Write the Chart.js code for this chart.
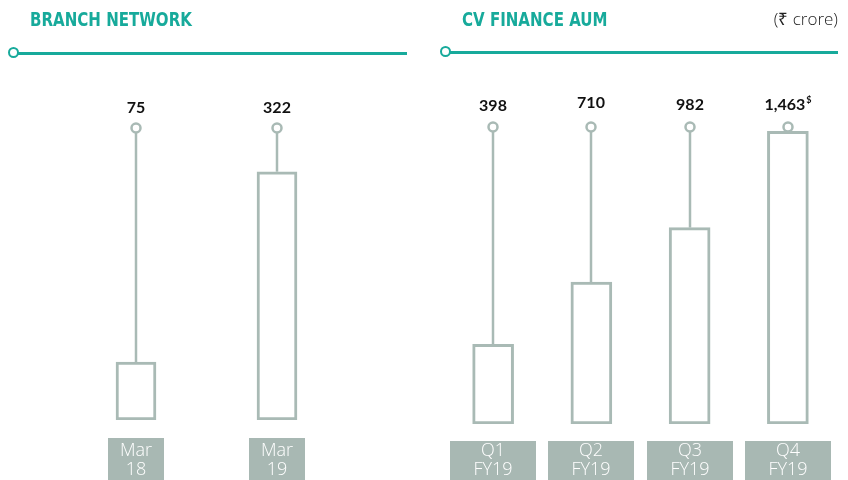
<!DOCTYPE html>
<html>
<head>
<meta charset="utf-8">
<script src="https://cdn.jsdelivr.net/npm/chart.js@4.4.1/dist/chart.umd.min.js"></script>
<style>
    body { margin: 0; background: #fff; }
    #pagina { position: relative; width: 848px; height: 480px; overflow: hidden; }
    canvas { position: absolute; top: 0; }
    .titulo { position: absolute; top: 8px; font-family: "DejaVu Sans Condensed", sans-serif; font-weight: bold; font-size: 19px; color: #17aa9b; transform: scaleX(0.88); transform-origin: left top; }
    .unidad { position: absolute; top: 7px; right: 10px; font-family: "Open Sans", sans-serif; font-weight: 300; font-size: 17px; color: #222; }
    .linea { position: absolute; height: 3px; background: #17aa9b; }
    .circulo { position: absolute; width: 7px; height: 7px; border: 2.5px solid #17aa9b; border-radius: 50%; background: #fff; }
</style>
</head>
<body>
<div id="pagina">
    <canvas id="graficoRamas" width="424" height="480" style="left:0"></canvas>
    <canvas id="graficoAum" width="424" height="480" style="left:424px"></canvas>

    <div class="titulo" style="left:30px">BRANCH NETWORK</div>
    <div class="linea" style="left:14px; top:52px; width:393px"></div>
    <div class="circulo" style="left:8px; top:47px"></div>

    <div class="titulo" style="left:462px">CV FINANCE AUM</div>
    <div class="unidad">(₹ crore)</div>
    <div class="linea" style="left:446px; top:51px; width:392px"></div>
    <div class="circulo" style="left:440px; top:46px"></div>
</div>
<script>
var ramasCategorias = [['Mar', '18'], ['Mar', '19']];
var ramasValores = [75, 322];

var aumCategorias = [['Q1', 'FY19'], ['Q2', 'FY19'], ['Q3', 'FY19'], ['Q4', 'FY19']];
var aumValores = [398, 710, 982, 1463];
var aumNotas = ['', '', '', '$'];

var gris = '#a9bab5';

//PLUGIN PARA PALITO, CIRCULO, VALOR Y CAJA DE CATEGORIA
var adornos = {
    id: 'adornos',
    afterDatasetsDraw: function (chart, args, op) {
        var ctx = chart.ctx;
        var meta = chart.getDatasetMeta(0);
        var valores = chart.data.datasets[0].data;
        var categorias = chart.data.labels;
        ctx.save();
        for (var i = 0; i < meta.data.length; i++) {
            var barra = meta.data[i];
            var x = Math.round(barra.x);

            //PALITO
            ctx.strokeStyle = gris;
            ctx.lineWidth = 2.5;
            ctx.beginPath();
            ctx.moveTo(x, op.circuloY + 5);
            ctx.lineTo(x, barra.y);
            ctx.stroke();

            //CIRCULO
            ctx.fillStyle = '#fff';
            ctx.beginPath();
            ctx.arc(x, op.circuloY, 4.5, 0, Math.PI * 2);
            ctx.fill();
            ctx.stroke();

            //VALOR
            var texto = valores[i].toLocaleString('en-US');
            var nota = op.notas ? op.notas[i] : '';
            ctx.font = 'bold 16px Lato';
            ctx.fillStyle = '#111';
            ctx.textBaseline = 'middle';
            var ancho = ctx.measureText(texto).width;
            ctx.font = 'bold 9px Lato';
            var anchoNota = nota ? ctx.measureText(nota).width + 1 : 0;
            var inicio = x - (ancho + anchoNota) / 2;
            ctx.font = 'bold 16px Lato';
            ctx.textAlign = 'left';
            ctx.fillText(texto, inicio, op.valorY[i]);
            if (nota) {
                ctx.font = 'bold 9px Lato';
                ctx.fillText(nota, inicio + ancho + 1, op.valorY[i] - 5);
            }

            //CAJA
            ctx.fillStyle = '#a8b8b3';
            ctx.fillRect(x - op.cajaAncho / 2, op.cajaY, op.cajaAncho, 480 - op.cajaY);
            ctx.fillStyle = '#fff';
            ctx.font = '300 18px "Open Sans"';
            ctx.textAlign = 'center';
            ctx.fillText(categorias[i][0], x, 450.5);
            ctx.fillText(categorias[i][1], x, 469.5);
        }
        ctx.restore();
    }
};

function crearGrafico(id, categorias, valores, maximo, grosor, padding, extra) {
    return new Chart(document.getElementById(id), {
        type: 'bar',
        data: {
            labels: categorias,
            datasets: [{
                data: valores,
                backgroundColor: '#fff',
                borderColor: gris,
                borderWidth: 3,
                borderSkipped: false,
                barThickness: grosor
            }]
        },
        options: {
            responsive: false,
            animation: false,
            devicePixelRatio: 1,
            layout: { padding: padding },
            scales: {
                x: { display: false },
                y: { display: false, min: 0, max: maximo }
            },
            plugins: {
                legend: { display: false },
                tooltip: { enabled: false },
                adornos: extra
            }
        },
        plugins: [adornos]
    });
}

crearGrafico('graficoRamas', ramasCategorias, ramasValores, 415, 40,
    { left: 65.5, right: 76.5, top: 100, bottom: 60 },
    { circuloY: 128, valorY: [108, 108], cajaY: 438, cajaAncho: 56 });

crearGrafico('graficoAum', aumCategorias, aumValores, 1620, 41,
    { left: 20, right: 11, top: 100, bottom: 56 },
    { circuloY: 127, valorY: [106, 103, 105, 105], cajaY: 441, cajaAncho: 86, notas: aumNotas });
</script>
</body>
</html>
